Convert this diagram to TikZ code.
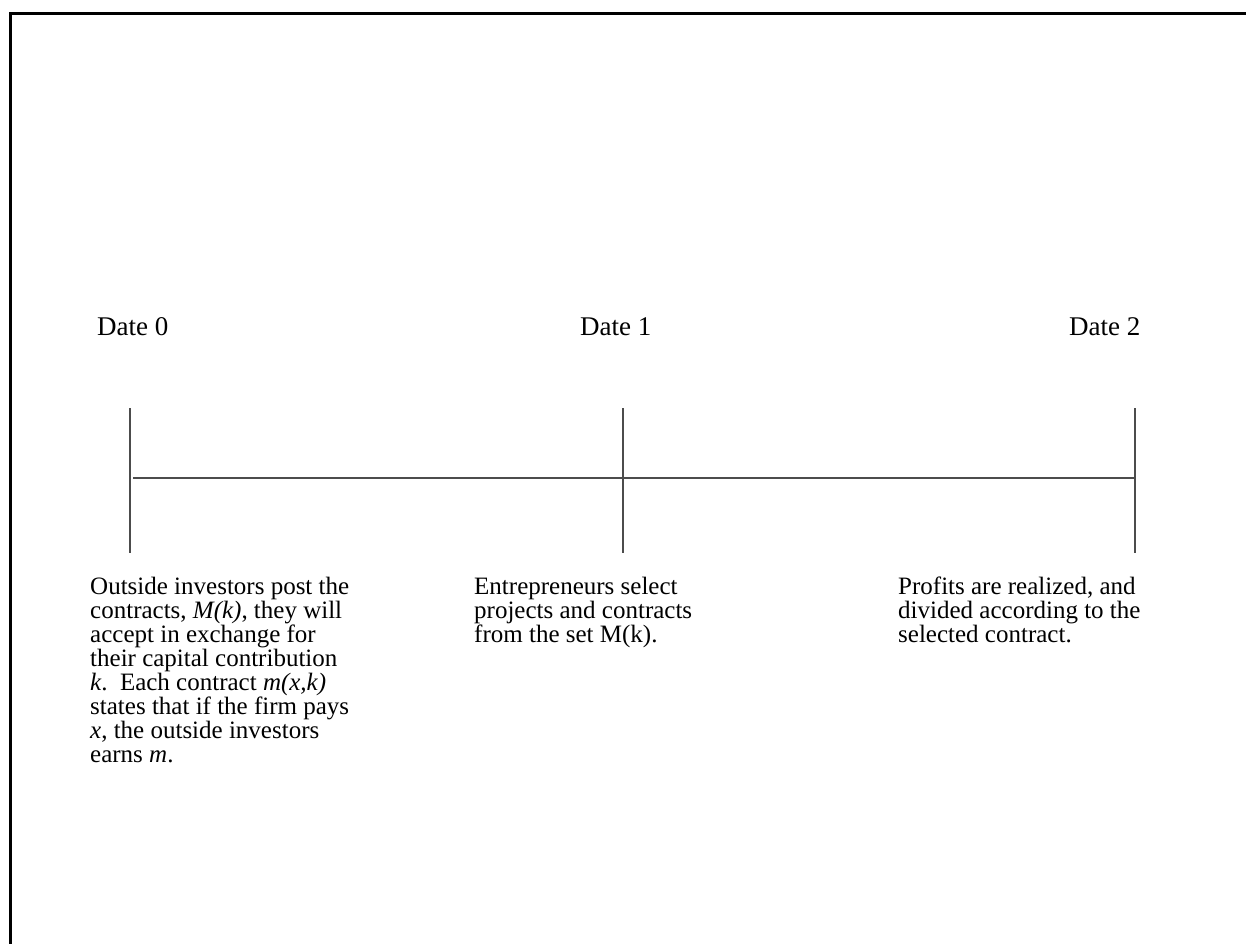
\documentclass[tikz,border=0pt]{standalone}
\usepackage{fontspec}
\setmainfont{Liberation Serif}
\begin{document}
\begin{tikzpicture}[x=1pt,y=-1pt,
  lbl/.style={font=\fontsize{25}{24}\selectfont, inner sep=0pt, anchor=north west, align=left},
  datelbl/.style={font=\fontsize{27}{28}\selectfont, inner sep=0pt, anchor=north west},
  tick/.style={line width=1.2pt, draw=black!70},
  frame/.style={line width=3pt, draw=black}]
\useasboundingbox (0,0) rectangle (1246,943);
% frame (open at right and bottom)
\coordinate (fb) at (10,960);
\coordinate (fc) at (10,13);
\coordinate (fr) at (1260,13);
\draw[frame] (fb) -- (fc) -- (fr);
% date labels
\node[datelbl] (d0) at (97,317) {Date 0};
\node[datelbl] (d1) at (580,317) {Date 1};
\node[datelbl] (d2) at (1069,317) {Date 2};
% timeline
\coordinate (t0a) at (130,408); \coordinate (t0b) at (130,553);
\coordinate (t1a) at (623,408); \coordinate (t1b) at (623,553);
\coordinate (t2a) at (1135,408); \coordinate (t2b) at (1135,553);
\coordinate (h0) at (133,478); \coordinate (h2) at (1135,478);
\draw[tick] (t0a) -- (t0b);
\draw[tick] (t1a) -- (t1b);
\draw[tick] (t2a) -- (t2b);
\draw[tick] (h0) -- (h2);
% descriptions
\node[lbl] (e0) at (90,577) {Outside investors post the\\
contracts, \textit{M(k)}, they will\\
accept in exchange for\\
their capital contribution\\
\textit{k}.\ \ Each contract \textit{m(x,k)}\\
states that if the firm pays\\
\textit{x}, the outside investors\\
earns \textit{m}.};
\node[lbl] (e1) at (474,577) {Entrepreneurs select\\
projects and contracts\\
from the set M(k).};
\node[lbl] (e2) at (898,577) {Profits are realized, and\\
divided according to the\\
selected contract.};
\end{tikzpicture}
\end{document}
